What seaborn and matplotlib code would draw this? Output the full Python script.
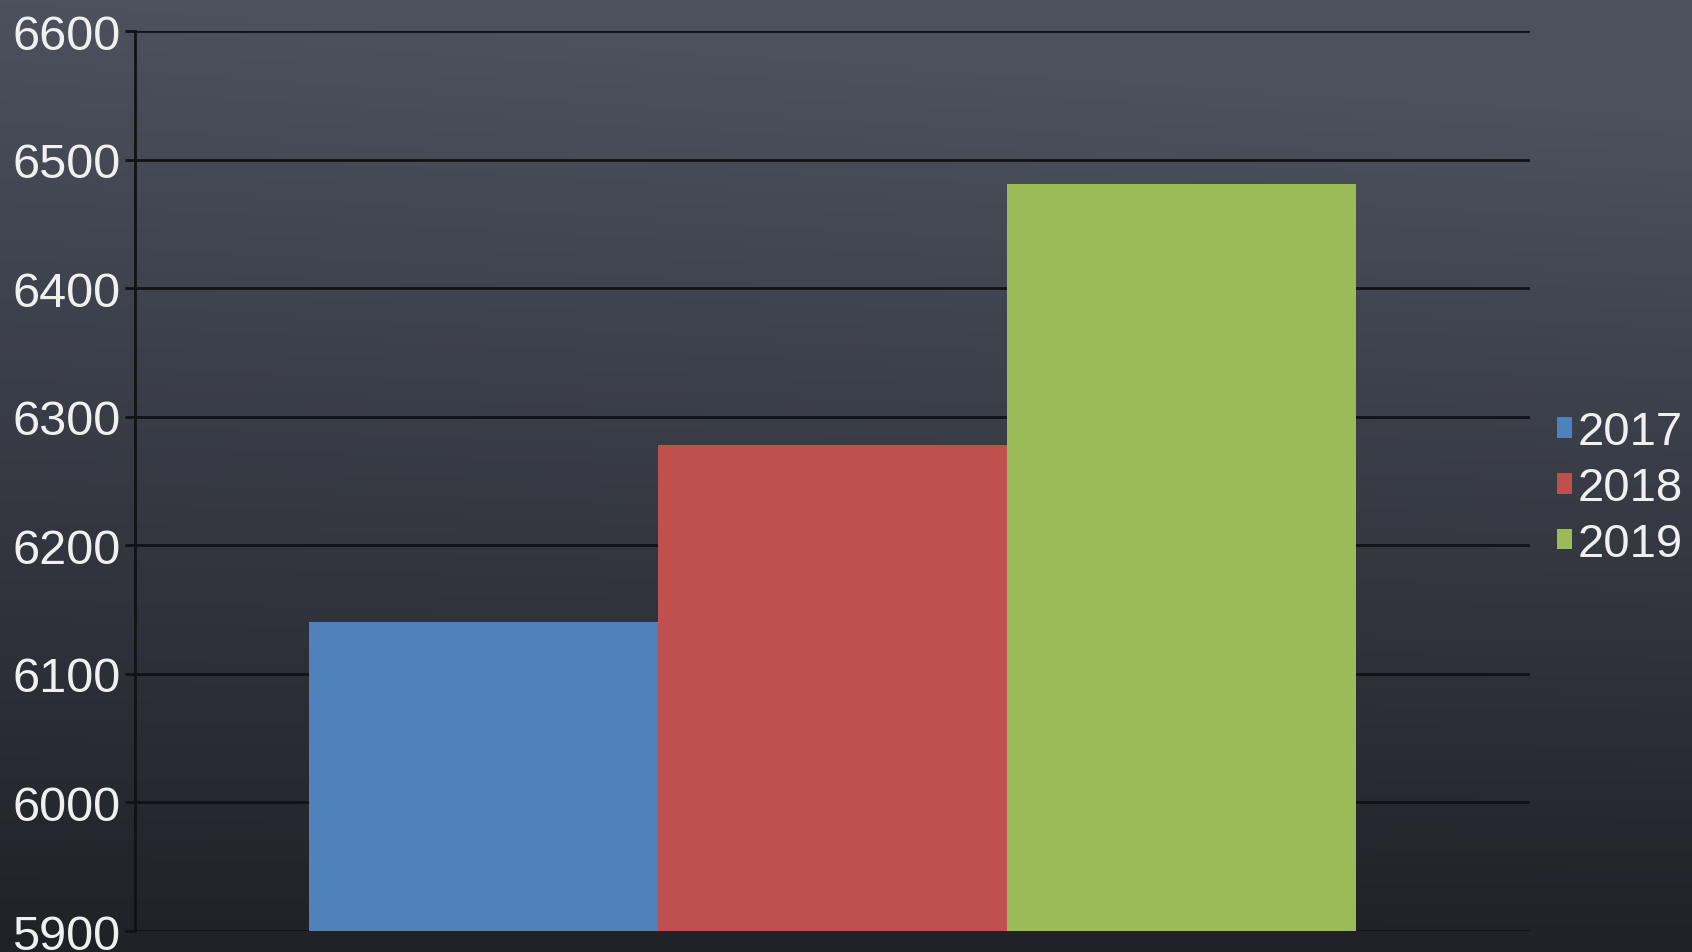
"""
Yearly totals 2017-2019, one group of bars on a dark slate background.
"""

import matplotlib
matplotlib.use("Agg")
import matplotlib.pyplot as plt
import numpy as np
import pandas as pd
import seaborn as sns

# ── Data ──────────────────────────────────────────────────────────────────────
years   = ["2017", "2018", "2019"]
values  = [6140, 6278, 6481]
colors  = ["#4F81BD", "#C0504D", "#9BBB59"]
y_ticks = [5900, 6000, 6100, 6200, 6300, 6400, 6500, 6600]

# ── Aesthetics ────────────────────────────────────────────────────────────────
sns.set_theme(style="dark")
plt.rcParams["font.family"] = ["Liberation Sans", "DejaVu Sans"]

df = pd.DataFrame({"group": [""] * len(years), "year": years, "value": values})

fig = plt.figure(figsize=(16.92, 9.53), dpi=100)

# background: slate gradient, lighter at the top
bg = fig.add_axes([0, 0, 1, 1], zorder=-10)
yy, xx = np.mgrid[0:1:200j, 0:1:300j]
shade = 1 - yy * 0.85 + 0.12 * xx * (1 - yy)
top = np.array([76, 81, 93]) / 255
bot = np.array([24, 25, 30]) / 255
img = bot + (top - bot) * np.clip(shade, 0, 1)[..., None]
bg.imshow(img, aspect="auto", extent=[0, 1, 0, 1], origin="upper")
bg.axis("off")

ax = fig.add_axes([0.0798, 0.022, 0.8245, 0.9444])
ax.set_facecolor("none")

sns.barplot(
    data=df, x="group", y="value", hue="year",
    palette=colors, width=0.75, gap=0, saturation=1,
    edgecolor="none", ax=ax, zorder=3,
)

ax.set_ylim(5900, 6600)
ax.set_yticks(y_ticks)
ax.set_xlim(-0.5, 0.5)
ax.set_xticks([])
ax.set_xlabel("")
ax.set_ylabel("")

ax.grid(axis="y", color="#111216", linewidth=2, zorder=0)
ax.grid(axis="x", visible=False)
for side in ["top", "right", "bottom"]:
    ax.spines[side].set_visible(False)
ax.spines["left"].set_color("#111216")
ax.spines["left"].set_linewidth(2)
ax.spines["left"].set_zorder(4)

ax.tick_params(axis="y", colors="#111216", length=7, width=2, pad=3.5,
               labelsize=35, labelcolor="#f0f0f0", left=True)

leg = ax.legend(
    loc="center left", bbox_to_anchor=(1.0, 0.492), frameon=False,
    fontsize=34, handlelength=0.3, handleheight=0.3, handletextpad=0.12,
    labelspacing=0.25, borderaxespad=0.18,
)
for t in leg.get_texts():
    t.set_color("#f0f0f0")

fig.savefig("out.png", dpi=100)
plt.close(fig)
